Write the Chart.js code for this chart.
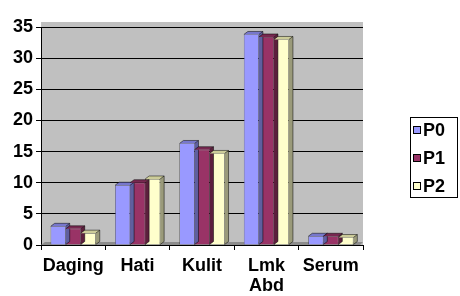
<!DOCTYPE html>
<html>
<head>
<meta charset="utf-8">
<script src="https://cdn.jsdelivr.net/npm/chart.js@4"></script>
<style>
  html, body { margin: 0; padding: 0; background: #ffffff; }
  #wrap { width: 460px; height: 296px; }
</style>
</head>
<body>
<div id="wrap"><canvas id="myChart" width="460" height="296"></canvas></div>
<script>
const categories = ['Daging', 'Hati', 'Kulit', ['Lmk', 'Abd'], 'Serum'];
const seriesNames = ['P0', 'P1', 'P2'];
const p0Values = [3.0, 9.6, 16.3, 33.8, 1.4];
const p1Values = [2.6, 10.0, 15.3, 33.4, 1.4];
const p2Values = [1.9, 10.6, 14.7, 33.0, 1.2];
const yTicks = [0, 5, 10, 15, 20, 25, 30, 35];

const colors = {
    front: ['#9999FF', '#993366', '#FFFFCC'],
    top: ['#7777CC', '#772850', '#CCCC99'],
    side: ['#5F5F9F', '#5C1F3D', '#9A9A7A']
};
const font = { family: 'Liberation Sans, Arial, sans-serif', size: 18, weight: 'bold', lineHeight: 1.11 };

// fake excel-style 3d bars: top and side faces
const bar3d = {
    id: 'bar3d',
    beforeDraw(chart) {
        const a = chart.chartArea;
        const c = chart.ctx;
        c.save();
        c.fillStyle = '#C0C0C0';
        c.fillRect(a.left, a.top - 5, a.right - a.left, a.bottom - a.top + 5);
        c.restore();
    },
    beforeDatasetsDraw(chart) {
        const a = chart.chartArea;
        const c = chart.ctx;
        c.save();
        c.fillStyle = '#8C8C8C';
        c.beginPath();
        c.moveTo(a.left, a.bottom); c.lineTo(a.left + 4, a.bottom - 3);
        c.lineTo(a.right, a.bottom - 3); c.lineTo(a.right - 3, a.bottom);
        c.closePath(); c.fill();
        c.restore();
    },
    afterDatasetsDraw(chart) {
        const c = chart.ctx;
        const dx = 4, dy = -3;
        c.save();
        chart.data.datasets.forEach(function (ds, i) {
            chart.getDatasetMeta(i).data.forEach(function (bar) {
                const l = bar.x - bar.width / 2, r = bar.x + bar.width / 2;
                const t = bar.y, b = bar.base;
                c.fillStyle = colors.top[i];
                c.beginPath();
                c.moveTo(l, t); c.lineTo(l + dx, t + dy); c.lineTo(r + dx, t + dy); c.lineTo(r, t);
                c.closePath(); c.fill();
                c.fillStyle = colors.side[i];
                c.beginPath();
                c.moveTo(r, t); c.lineTo(r + dx, t + dy); c.lineTo(r + dx, b + dy); c.lineTo(r, b);
                c.closePath(); c.fill();
                c.strokeStyle = '#000000';
                c.lineWidth = 0.5;
                c.beginPath();
                c.moveTo(l, t); c.lineTo(l + dx, t + dy); c.lineTo(r + dx, t + dy); c.lineTo(r + dx, b + dy); c.lineTo(r, b);
                c.moveTo(r, t); c.lineTo(r + dx, t + dy);
                c.stroke();
            });
        });
        c.restore();
    },
    afterDraw(chart) {
        // legend box on the right
        const c = chart.ctx;
        const x = 410, y = 117, w = 47, h = 80;
        c.save();
        c.fillStyle = '#ffffff';
        c.fillRect(x, y, w, h);
        c.strokeStyle = '#000000';
        c.lineWidth = 1;
        c.strokeRect(x + 0.5, y + 0.5, w, h);
        c.font = 'bold 18px "Liberation Sans", Arial, sans-serif';
        c.textBaseline = 'middle';
        seriesNames.forEach(function (name, i) {
            const cy = y + 13 + i * 28;
            c.fillStyle = colors.front[i];
            c.fillRect(x + 3, cy - 4, 8, 8);
            c.strokeStyle = '#000000';
            c.strokeRect(x + 3.5, cy - 3.5, 7, 7);
            c.fillStyle = '#000000';
            c.fillText(name, x + 13, cy + 1);
        });
        c.restore();
    }
};

const ctx = document.getElementById('myChart').getContext('2d');
const myChart = new Chart(ctx, {
    type: 'bar',
    data: {
        labels: categories,
        datasets: [p0Values, p1Values, p2Values].map(function (vals, i) {
            return {
                label: seriesNames[i],
                data: vals,
                backgroundColor: colors.front[i],
                borderColor: '#000000',
                borderWidth: 0.5,
                categoryPercentage: 0.7,
                barPercentage: 1.0
            };
        })
    },
    options: {
        responsive: false,
        animation: false,
        layout: { padding: { left: 10, right: 97, top: 27, bottom: 0 } },
        scales: {
            x: {
                afterFit: function (scale) { scale.height = 51; },
                grid: { display: true, offset: true, drawOnChartArea: false, color: '#000000', tickLength: 5 },
                border: { display: false },
                ticks: { color: '#000000', font: font, padding: 6, maxRotation: 0, autoSkip: false }
            },
            y: {
                min: 0,
                max: 35,
                afterBuildTicks: function (axis) {
                    axis.ticks = yTicks.map(function (v) { return { value: v }; });
                },
                grid: { color: '#000000', tickLength: 5 },
                border: { display: true, color: '#000000' },
                ticks: { color: '#000000', font: font, padding: 3 }
            }
        },
        plugins: {
            legend: { display: false },
            title: { display: false },
            tooltip: { enabled: false }
        }
    },
    plugins: [bar3d]
});
</script>
</body>
</html>
